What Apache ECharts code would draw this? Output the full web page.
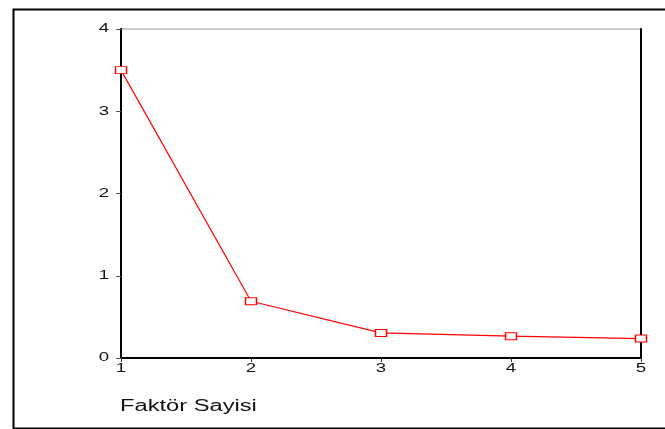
<!DOCTYPE html>
<html><head><meta charset="utf-8">
<script src="https://cdn.jsdelivr.net/npm/echarts@6/dist/echarts.min.js"></script>
<style>html,body{margin:0;padding:0;background:#fff}#c{width:665px;height:429px}</style>
</head><body><div id="c"></div>
<script>
const factors = [1, 2, 3, 4, 5];
const eigenvalues = [3.50, 0.69, 0.305, 0.265, 0.236];
const xTicks = [1, 2, 3, 4, 5];
const yTicks = [0, 1, 2, 3, 4];
const xTitle = 'Faktör Sayisi';

const chart = echarts.init(document.getElementById('c'), null, {renderer: 'canvas'});
const font = 'Arial, "Liberation Sans", sans-serif';
chart.setOption({
  animation: false,
  backgroundColor: '#fff',
  grid: {left: 121, top: 29, right: 24, bottom: 71, containLabel: false,
         show: true, borderColor: '#999', borderWidth: 1, backgroundColor: 'transparent'},
  xAxis: [{
    type: 'value', min: xTicks[0], max: xTicks[xTicks.length - 1], interval: 1,
    axisLine: {show: true, onZero: false, lineStyle: {color: '#000', width: 2}},
    axisTick: {show: true, length: 4, lineStyle: {color: '#333', width: 1}},
    axisLabel: {show: false},
    splitLine: {show: false}
  }],
  yAxis: [{
    type: 'value', min: yTicks[0], max: yTicks[yTicks.length - 1], interval: 1,
    axisLine: {show: true, onZero: false, lineStyle: {color: '#000', width: 2}},
    axisTick: {show: true, length: 5, lineStyle: {color: '#555', width: 1}},
    axisLabel: {show: false},
    splitLine: {show: false}
  }, {
    type: 'value', position: 'right', min: yTicks[0], max: yTicks[yTicks.length - 1],
    axisLine: {show: true, lineStyle: {color: '#000', width: 2}},
    axisTick: {show: false}, axisLabel: {show: false}, splitLine: {show: false}
  }],
  series: [{
    type: 'line',
    data: factors.map((f, i) => [f, eigenvalues[i]]),
    symbol: 'rect', symbolSize: [11, 7], showSymbol: true,
    lineStyle: {color: '#ff0000', width: 1.2},
    itemStyle: {color: '#fff', borderColor: '#ff0000', borderWidth: 1.2},
    z: 3
  }]
});

// Tick labels placed via the library's own scales, horizontally stretched like the original
const labelStyle = {fill: '#111', fontSize: 12, fontFamily: font};
const graphics = [{
  type: 'rect', left: 11, top: 7, silent: true,
  shape: {width: 680, height: 419},
  style: {fill: 'none', stroke: '#000', lineWidth: 2}
}, {
  type: 'text', x: 120, y: 399, scaleX: 1.48,
  style: Object.assign({}, labelStyle, {text: xTitle, fontSize: 16})
}];
const x0 = chart.convertToPixel({xAxisIndex: 0}, xTicks[0]);
const yBase = chart.convertToPixel({yAxisIndex: 0}, yTicks[0]);
yTicks.forEach(v => {
  graphics.push({
    type: 'text', x: x0 - 12, y: chart.convertToPixel({yAxisIndex: 0}, v), scaleX: 1.55,
    style: Object.assign({}, labelStyle, {text: String(v), align: 'right', verticalAlign: 'middle'})
  });
});
xTicks.forEach(v => {
  graphics.push({
    type: 'text', x: chart.convertToPixel({xAxisIndex: 0}, v), y: yBase + 5, scaleX: 1.55,
    style: Object.assign({}, labelStyle, {text: String(v), align: 'center', verticalAlign: 'top'})
  });
});
chart.setOption({graphic: graphics});
</script></body></html>
